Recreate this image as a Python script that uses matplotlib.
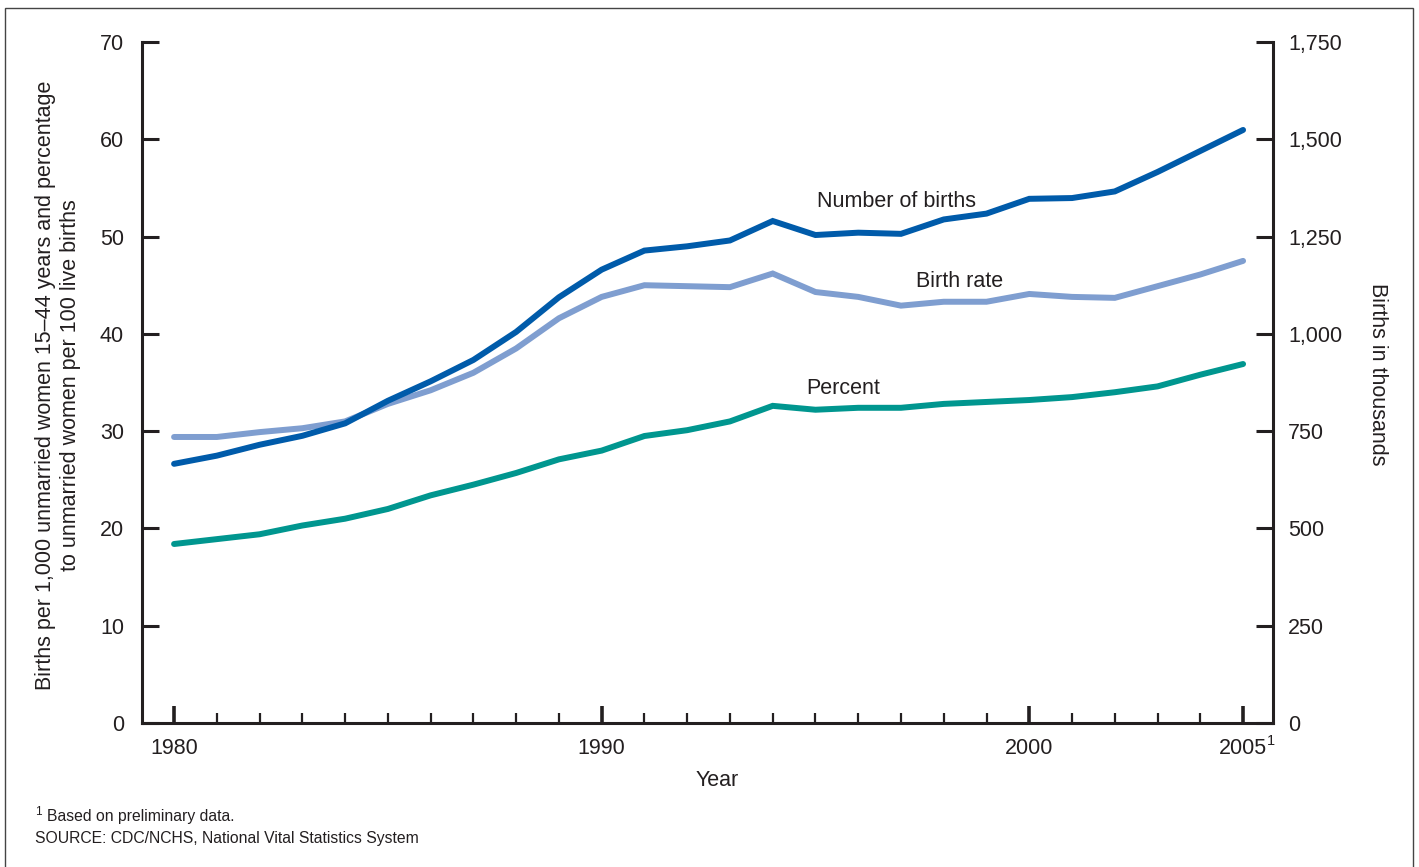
import matplotlib
matplotlib.use("Agg")
import matplotlib.pyplot as plt
from matplotlib.patches import Rectangle
from matplotlib.ticker import FuncFormatter

plt.rcParams['font.family'] = ['Liberation Sans', 'DejaVu Sans']

years = list(range(1980, 2006))
birth_rate = [29.4, 29.4, 29.9, 30.3, 31.0, 32.8, 34.2, 36.0, 38.5, 41.6,
              43.8, 45.0, 44.9, 44.8, 46.2, 44.3, 43.8, 42.9, 43.3, 43.3,
              44.1, 43.8, 43.7, 44.9, 46.1, 47.5]
percent = [18.4, 18.9, 19.4, 20.3, 21.0, 22.0, 23.4, 24.5, 25.7, 27.1,
           28.0, 29.5, 30.1, 31.0, 32.6, 32.2, 32.4, 32.4, 32.8, 33.0,
           33.2, 33.5, 34.0, 34.6, 35.8, 36.9]
births_thousands = [666, 687, 715, 738, 770, 828, 878, 933, 1005, 1094,
                    1165, 1214, 1225, 1240, 1290, 1254, 1260, 1257, 1294, 1309,
                    1347, 1349, 1366, 1416, 1470, 1524]

left_ticks = [0, 10, 20, 30, 40, 50, 60, 70]
right_ticks = [0, 250, 500, 750, 1000, 1250, 1500, 1750]
major_years = [1980, 1990, 2000, 2005]

c_births = '#005BAA'
c_rate = '#7F9ED0'
c_pct = '#00968F'
ink = '#231F20'
fs = 15.5

W, H = 1419, 867
fig = plt.figure(figsize=(W / 100, H / 100), dpi=100)
ax = fig.add_axes([142 / W, 1 - 723 / H, (1273 - 142) / W, (723 - 42) / H])
ax2 = ax.twinx()

lw = 4.3
ax.plot(years, percent, color=c_pct, lw=lw, solid_capstyle='round', solid_joinstyle='miter', zorder=3)
ax.plot(years, birth_rate, color=c_rate, lw=lw, solid_capstyle='round', solid_joinstyle='miter', zorder=3)
ax2.plot(years, births_thousands, color=c_births, lw=lw, solid_capstyle='round', solid_joinstyle='miter', zorder=4)

ax.set_xlim(1979.25, 2005.70)
ax.set_ylim(0, 70)
ax2.set_ylim(0, 1750)

for a in (ax, ax2):
    a.spines['top'].set_visible(False)
    for s in ('left', 'right', 'bottom'):
        a.spines[s].set_linewidth(2.2)
        a.spines[s].set_color(ink)
    a.patch.set_visible(False)

ax.spines['right'].set_visible(False)
ax2.spines['left'].set_visible(False)
ax2.spines['bottom'].set_visible(False)

ax.set_yticks(left_ticks)
ax.tick_params(axis='y', direction='in', length=12, width=2.2, color=ink,
               labelsize=fs, pad=13, labelcolor=ink)
ax2.set_yticks(right_ticks)
ax2.yaxis.set_major_formatter(FuncFormatter(lambda v, p: f"{int(v):,}"))
ax2.tick_params(axis='y', direction='in', length=12, width=2.2, color=ink,
                labelsize=fs, pad=11, labelcolor=ink)

ax.set_xticks(major_years)
ax.set_xticklabels([str(y) for y in major_years])
ax.set_xticks(years, minor=True)
ax.tick_params(axis='x', which='major', direction='in', length=12, width=2.6, color=ink,
               labelsize=fs, pad=11, labelcolor=ink)
ax.tick_params(axis='x', which='minor', direction='in', length=7, width=1.6, color=ink)

ax.annotate('1', xy=(2005, 0), xycoords='data', xytext=(17.5, -8), textcoords='offset points',
            fontsize=10.5, color=ink, ha='left', va='top', annotation_clip=False)

ax.set_xlabel('Year', fontsize=fs, color=ink)
ax.xaxis.set_label_coords((717 - 142) / (1273 - 142), -(780 - 723) / (723 - 42))
ax.xaxis.label.set_verticalalignment('center')

fig.text(58 / W, 1 - 385 / H,
         'Births per 1,000 unmarried women 15\u201344 years and percentage\nto unmarried women per 100 live births',
         rotation=90, ha='center', va='center', fontsize=fs, color=ink, linespacing=1.2)
fig.text(1378 / W, 1 - 374 / H, 'Births in thousands', rotation=270, ha='center', va='center',
         fontsize=fs, color=ink)

ax.text(1996.9, 53.6, 'Number of births', fontsize=fs, color=ink, ha='center', va='center')
ax.text(1998.36, 45.4, 'Birth rate', fontsize=fs, color=ink, ha='center', va='center')
ax.text(1995.65, 34.4, 'Percent', fontsize=fs, color=ink, ha='center', va='center')

fig.text(35 / W, 1 - 812 / H, '1', fontsize=8.5, color=ink, ha='left', va='center')
fig.text(47 / W, 1 - 816 / H, 'Based on preliminary data.', fontsize=11.3, color=ink,
         ha='left', va='center')
fig.text(35 / W, 1 - 838 / H, 'SOURCE: CDC/NCHS, National Vital Statistics System', fontsize=11.3,
         color=ink, ha='left', va='center')

fig.patches.append(Rectangle((5 / W, -0.02), (1413 - 5) / W, 1.02 - 8 / H, transform=fig.transFigure,
                             fill=False, edgecolor='#444444', lw=1.0))

fig.savefig('out.png', dpi=100)
